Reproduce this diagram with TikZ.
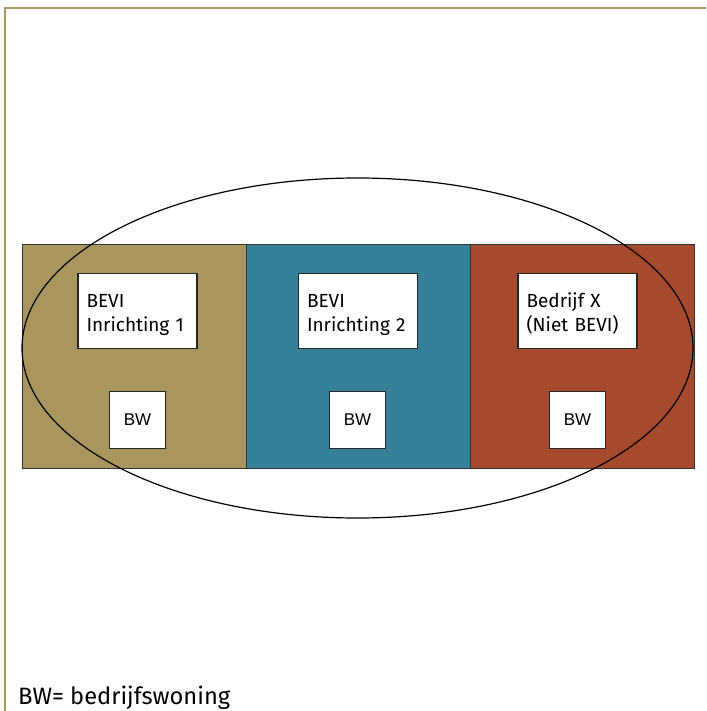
\documentclass[tikz,border=0pt]{standalone}
\usepackage{fontspec}
\setmainfont{Fira Sans}
\newfontfamily\arialfont{Liberation Sans}
\definecolor{frame}{HTML}{A99A60}
\definecolor{olive}{HTML}{A8965E}
\definecolor{teal}{HTML}{35819A}
\definecolor{rust}{HTML}{A64A2E}
\begin{document}
\begin{tikzpicture}[x=1pt,y=-1pt,
  zone/.style={draw=black!80,line width=1pt},
  lbl/.style={draw=black!85,fill=white,line width=1.2pt,minimum width=119pt,minimum height=75pt,inner sep=0pt,
    font=\fontsize{19}{24}\selectfont,align=left,text width=102pt,text height=13pt,text depth=21pt},
  bw/.style={draw=black!85,fill=white,line width=1.2pt,minimum width=56pt,minimum height=57pt,inner sep=0pt,
    font=\arialfont\fontsize{17}{19}\selectfont}]
\useasboundingbox (0,0) rectangle (706,711);
\fill[white] (0,0) rectangle (706,711);
\draw[frame,line width=2.5pt] (5,711) -- (5,8) -- (706,8);
\draw[zone,fill=olive] (22,244) rectangle (246,468);
\draw[zone,fill=teal] (246,244) rectangle (470,468);
\draw[zone,fill=rust] (470,244) rectangle (694,468);
\node[lbl] (b1) at (137.5,311) {BEVI\\Inrichting 1};
\node[lbl] (b2) at (358,311) {BEVI\\Inrichting 2};
\node[lbl] (b3) at (577.5,311) {Bedrijf X\\(Niet BEVI)};
\node[bw] (w1) at (137.5,420) {BW};
\node[bw] (w2) at (357.5,420) {BW};
\node[bw] (w3) at (577.5,420) {BW};
\draw[black,line width=1.2pt] (357.5,348) ellipse [x radius=335.5, y radius=170];
\node[anchor=base west,inner sep=0pt,font=\fontsize{23.7}{26}\selectfont] (leg) at (18,704) {BW= bedrijfswoning};
\end{tikzpicture}
\end{document}
